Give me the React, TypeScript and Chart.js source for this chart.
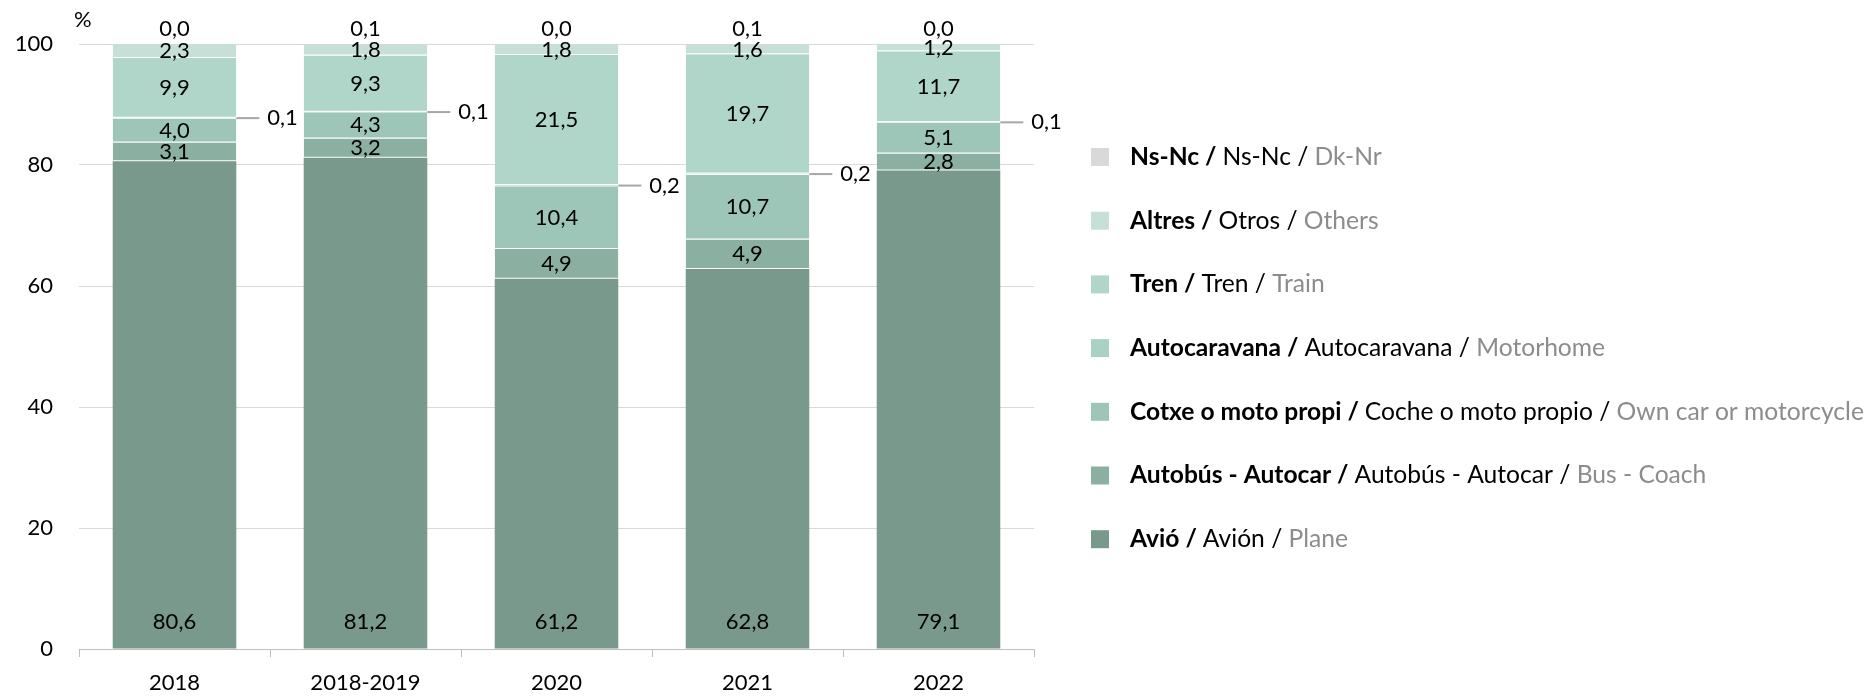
import React, { useEffect, useRef } from "react";
import { Chart, registerables } from "chart.js";

Chart.register(...registerables);

const categories = ["2018", "2018-2019", "2020", "2021", "2022"];

const avio = [80.6, 81.2, 61.2, 62.8, 79.1];
const autobus = [3.1, 3.2, 4.9, 4.9, 2.8];
const cotxe = [4.0, 4.3, 10.4, 10.7, 5.1];
const autocaravana = [0.1, 0.1, 0.2, 0.2, 0.1];
const tren = [9.9, 9.3, 21.5, 19.7, 11.7];
const altres = [2.3, 1.8, 1.8, 1.6, 1.2];
const nsnc = [0.0, 0.1, 0.0, 0.1, 0.0];

const yTicks = [0, 20, 40, 60, 80, 100];

const seriesLabels = [
  ["Avió / ", "Avión / ", "Plane"],
  ["Autobús - Autocar / ", "Autobús - Autocar / ", "Bus - Coach"],
  ["Cotxe o moto propi / ", "Coche o moto propio / ", "Own car or motorcycle"],
  ["Autocaravana / ", "Autocaravana / ", "Motorhome"],
  ["Tren / ", "Tren / ", "Train"],
  ["Altres / ", "Otros / ", "Others"],
  ["Ns-Nc / ", "Ns-Nc / ", "Dk-Nr"],
];

const seriesValues = [avio, autobus, cotxe, autocaravana, tren, altres, nsnc];
const seriesColors = ["#78998c", "#8bb0a2", "#9dc6b8", "#a8d2c4", "#b0d5c9", "#c6e0d8", "#d9d9d9"];

const FONT = "Lato, 'Open Sans', sans-serif";
const FS = 22;

const fmt = (v: number) => v.toFixed(1).replace(".", ",");

const labelsPlugin = {
  id: "segLabels",
  afterDatasetsDraw(chart: any) {
    const ctx = chart.ctx;
    ctx.save();
    ctx.font = `${FS}px ${FONT}`;
    ctx.fillStyle = "#000";
    ctx.textBaseline = "middle";
    chart.data.datasets.forEach((ds: any, di: number) => {
      const meta = chart.getDatasetMeta(di);
      meta.data.forEach((bar: any, i: number) => {
        const v = ds.data[i];
        const txt = fmt(v);
        const top = Math.min(bar.y, bar.base);
        const bottom = Math.max(bar.y, bar.base);
        if (di === 0) {
          ctx.textAlign = "center";
          ctx.fillText(txt, bar.x, bottom - 27);
        } else if (di === 3) {
          const right = bar.x + bar.width / 2;
          const yc = (top + bottom) / 2;
          ctx.strokeStyle = "#a6a6a6";
          ctx.lineWidth = 2;
          ctx.beginPath();
          ctx.moveTo(right, yc);
          ctx.lineTo(right + 23, yc);
          ctx.stroke();
          ctx.textAlign = "left";
          ctx.fillText(txt, right + 31, yc);
        } else if (di === 6) {
          ctx.textAlign = "center";
          ctx.fillText(txt, bar.x, top - 15);
        } else {
          ctx.textAlign = "center";
          ctx.fillText(txt, bar.x, (top + bottom) / 2);
        }
      });
    });
    ctx.textAlign = "left";
    ctx.fillText("%", 74, 20);
    ctx.restore();
  },
};

const legendPlugin = {
  id: "customLegend",
  afterDraw(chart: any) {
    const ctx = chart.ctx;
    ctx.save();
    const x0 = 1091;
    const textX = 1130;
    const targetW = 734;
    const measure = (s: number, parts: string[]) => {
      ctx.font = `bold ${s}px ${FONT}`;
      let w = ctx.measureText(parts[0]).width;
      ctx.font = `${s}px ${FONT}`;
      w += ctx.measureText(parts[1]).width + ctx.measureText(parts[2]).width;
      return w;
    };
    const w22 = measure(22, seriesLabels[2]);
    const size = 22 * targetW / w22;
    const n = seriesLabels.length;
    for (let k = 0; k < n; k++) {
      const si = n - 1 - k;
      const yc = 157 + k * 63.7;
      ctx.fillStyle = seriesColors[si];
      ctx.fillRect(x0, yc - 9, 18, 18);
      const parts = seriesLabels[si];
      let x = textX;
      ctx.textBaseline = "middle";
      ctx.textAlign = "left";
      ctx.font = `bold ${size}px ${FONT}`;
      ctx.fillStyle = "#000";
      ctx.fillText(parts[0], x, yc);
      x += ctx.measureText(parts[0]).width;
      ctx.font = `${size}px ${FONT}`;
      ctx.fillText(parts[1], x, yc);
      x += ctx.measureText(parts[1]).width;
      ctx.fillStyle = "#8c8c8c";
      ctx.fillText(parts[2], x, yc);
    }
    ctx.restore();
  },
};

export default function App() {
  const ref = useRef<HTMLCanvasElement>(null);
  useEffect(() => {
    document.body.style.margin = "0";
    const chart = new Chart(ref.current as HTMLCanvasElement, {
      type: "bar",
      data: {
        labels: categories,
        datasets: seriesValues.map((vals, i) => ({
          label: seriesLabels[i].join(""),
          data: vals,
          backgroundColor: seriesColors[i],
          borderColor: "rgba(255,255,255,0.3)",
          borderWidth: i === 0 ? 0 : { top: 0, bottom: 1, left: 0, right: 0 },
          borderSkipped: false,
          barPercentage: 0.647,
          categoryPercentage: 1,
        })),
      },
      options: {
        responsive: false,
        animation: false,
        layout: { padding: { top: 44, right: 838, left: 0, bottom: 0 } },
        plugins: { legend: { display: false }, tooltip: { enabled: false } },
        scales: {
          x: {
            stacked: true,
            afterFit: (s: any) => {
              s.height = 48;
            },
            grid: {
              display: true,
              drawOnChartArea: false,
              drawTicks: true,
              tickLength: 8,
              offset: true,
              color: "#bfbfbf",
            },
            border: { display: true, color: "#bfbfbf" },
            ticks: { color: "#000", font: { family: FONT, size: FS }, padding: 13 },
          },
          y: {
            stacked: true,
            min: 0,
            max: 100,
            afterFit: (s: any) => {
              s.width = 79;
            },
            afterBuildTicks: (s: any) => {
              s.ticks = yTicks.map((v) => ({ value: v }));
            },
            grid: { color: "#d9d9d9", drawTicks: false, lineWidth: 1 },
            border: { display: false },
            ticks: { color: "#000", font: { family: FONT, size: FS }, padding: 26 },
          },
        },
      },
      plugins: [labelsPlugin, legendPlugin],
    });
    return () => chart.destroy();
  }, []);
  return (
    <div style={{ position: "absolute", left: 0, top: 0, width: 1872, height: 697 }}>
      <canvas ref={ref} width={1872} height={697} style={{ width: 1872, height: 697 }} />
    </div>
  );
}
